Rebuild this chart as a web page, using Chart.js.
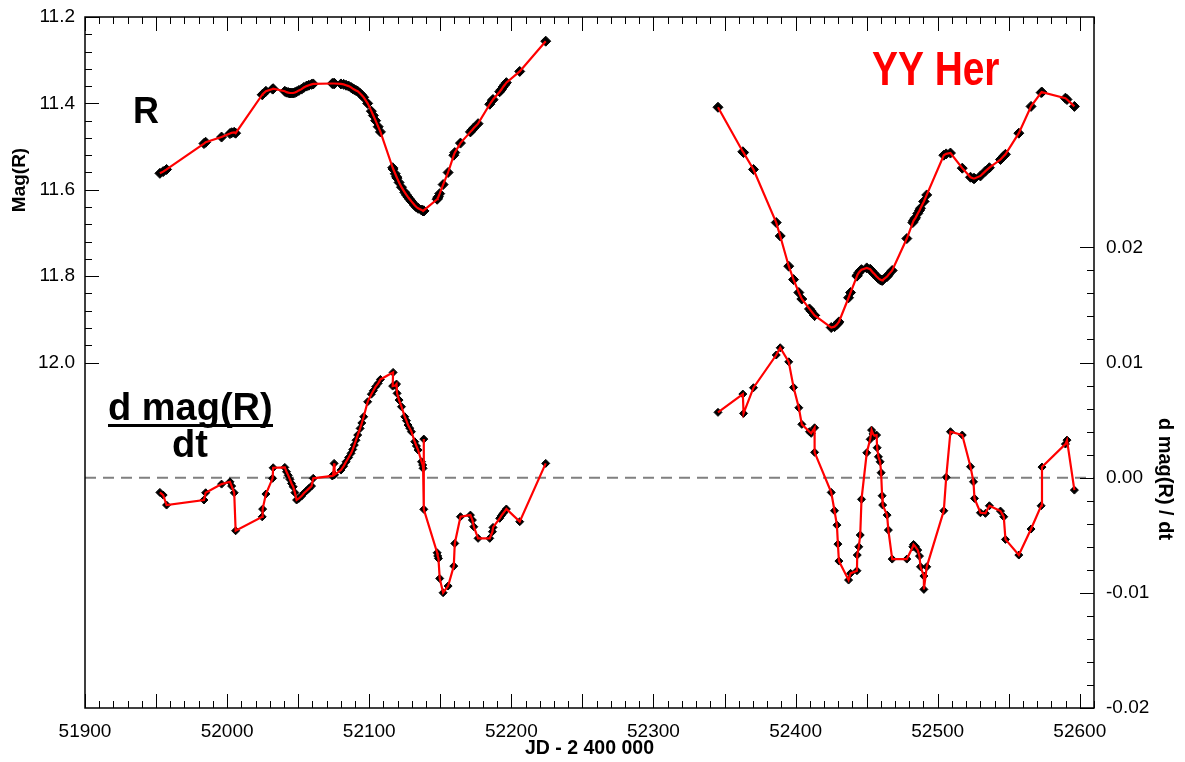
<!DOCTYPE html>
<html>
<head>
<meta charset="utf-8">
<title>YY Her</title>
<script src="https://cdn.jsdelivr.net/npm/chart.js@4.4.1/dist/chart.umd.min.js"></script>
<style>
    html, body { margin: 0; padding: 0; background: #fff; }
</style>
</head>
<body>
<canvas id="myChart" width="1185" height="762"></canvas>
<script>
// tick labels
const xTicks = [51900, 52000, 52100, 52200, 52300, 52400, 52500, 52600];
const magTicks = [11.2, 11.4, 11.6, 11.8, 12.0];
const derTicks = [-0.02, -0.01, 0.00, 0.01, 0.02];

// season 1 : JD - 2400000, R magnitude, d mag / dt
const jd1 = [51952.7, 51955.0, 51957.4, 51983.7, 51984.9, 51996.1, 52002.0, 52003.2, 52005.0, 52006.0,
    52024.7, 52025.0, 52027.3, 52032.0, 52032.4, 52040.6, 52041.8, 52043.0, 52044.2, 52045.3,
    52046.5, 52047.7, 52048.9, 52050.5, 52052.4, 52054.0, 52055.9, 52057.5, 52059.4, 52060.6,
    52074.0, 52074.6, 52075.3, 52075.6, 52080.1, 52082.0, 52083.7, 52085.5, 52087.2, 52088.4,
    52089.5, 52090.7, 52091.9, 52093.6, 52094.8, 52096.1, 52098.9, 52101.5, 52102.9, 52104.5,
    52106.3, 52107.9, 52116.8, 52116.5, 52118.3, 52119.2, 52119.6, 52121.0, 52122.7, 52125.0,
    52126.2, 52127.3, 52128.5, 52129.7, 52132.0, 52133.2, 52134.4, 52136.8, 52137.6, 52137.9,
    52138.4, 52138.4, 52147.8, 52148.2, 52148.7, 52149.6, 52152.0, 52155.5, 52159.5, 52160.2,
    52164.2, 52171.2, 52172.6, 52173.6, 52176.6, 52184.8, 52186.7, 52187.1, 52191.8, 52193.0,
    52194.2, 52195.4, 52196.5, 52205.9, 52224.2];
const mag1 = [11.562, 11.558, 11.553, 11.493, 11.490, 11.478, 11.470, 11.468, 11.467, 11.469,
    11.380, 11.379, 11.372, 11.367, 11.366, 11.372, 11.374, 11.375, 11.376, 11.376,
    11.376, 11.375, 11.373, 11.370, 11.367, 11.363, 11.360, 11.358, 11.356, 11.355,
    11.354, 11.354, 11.354, 11.354, 11.355, 11.356, 11.358, 11.360, 11.363, 11.366,
    11.368, 11.370, 11.372, 11.377, 11.381, 11.386, 11.400, 11.418, 11.428, 11.440,
    11.454, 11.466, 11.552, 11.549, 11.563, 11.570, 11.573, 11.583, 11.594, 11.606,
    11.612, 11.617, 11.622, 11.627, 11.636, 11.640, 11.643, 11.647, 11.648, 11.649,
    11.649, 11.649, 11.622, 11.619, 11.616, 11.609, 11.588, 11.560, 11.520, 11.514,
    11.492, 11.466, 11.461, 11.457, 11.447, 11.402, 11.393, 11.391, 11.373, 11.368,
    11.362, 11.357, 11.352, 11.326, 11.256];
const der1 = [-0.00128, -0.00151, -0.00238, -0.00194, -0.00131, -0.00056, -0.00036, -0.00073, -0.00131, -0.00461,
    -0.00340, -0.00273, -0.00142, -0.00006, 0.00086, 0.00089, 0.00051, 0.00020, -0.00015, -0.00050,
    -0.00079, -0.00130, -0.00194, -0.00180, -0.00160, -0.00135, -0.00113, -0.00095, -0.00073, -0.00006,
    0.00015, 0.00022, 0.00124, 0.00025, 0.00066, 0.00100, 0.00138, 0.00175, 0.00211, 0.00245,
    0.00283, 0.00325, 0.00370, 0.00428, 0.00475, 0.00529, 0.00659, 0.00725, 0.00755, 0.00790,
    0.00819, 0.00853, 0.00914, 0.00795, 0.00800, 0.00813, 0.00732, 0.00674, 0.00616, 0.00529,
    0.00495, 0.00457, 0.00430, 0.00399, 0.00312, 0.00275, 0.00240, 0.00138, 0.00110, 0.00081,
    0.00335, -0.00275, -0.00652, -0.00680, -0.00701, -0.00875, -0.00999, -0.00941, -0.00768, -0.00571,
    -0.00339, -0.00325, -0.00368, -0.00426, -0.00527, -0.00527, -0.00469, -0.00432, -0.00353, -0.00330,
    -0.00310, -0.00290, -0.00272, -0.00382, 0.00124];

// season 2
const jd2 = [52345.4, 52362.9, 52363.4, 52370.4, 52386.4, 52389.2, 52395.2, 52398.6, 52402.3, 52404.4,
    52409.8, 52411.0, 52413.4, 52413.4, 52425.1, 52427.4, 52429.1, 52429.8, 52430.5, 52437.3,
    52438.7, 52443.2, 52443.4, 52444.5, 52445.5, 52446.4, 52450.1, 52452.5, 52453.5, 52454.5,
    52455.5, 52457.0, 52457.4, 52458.3, 52459.5, 52460.2, 52460.9, 52461.3, 52464.4, 52465.3,
    52468.0, 52478.3, 52482.5, 52483.0, 52483.8, 52484.4, 52486.0, 52487.2, 52487.9, 52490.3,
    52490.3, 52492.3, 52504.3, 52506.0, 52509.0, 52517.3, 52523.1, 52525.2, 52525.9, 52530.1,
    52533.6, 52536.4, 52544.2, 52546.5, 52547.7, 52557.1, 52565.7, 52572.8, 52573.4, 52589.9,
    52591.0, 52596.2];
const mag2 = [11.409, 11.512, 11.514, 11.553, 11.676, 11.707, 11.777, 11.808, 11.838, 11.853,
    11.876, 11.881, 11.891, 11.891, 11.919, 11.917, 11.912, 11.909, 11.906, 11.850,
    11.838, 11.800, 11.798, 11.792, 11.788, 11.785, 11.781, 11.784, 11.788, 11.792,
    11.795, 11.801, 11.802, 11.805, 11.808, 11.809, 11.810, 11.809, 11.801, 11.797,
    11.787, 11.713, 11.676, 11.672, 11.668, 11.665, 11.655, 11.648, 11.643, 11.627,
    11.627, 11.612, 11.520, 11.517, 11.515, 11.550, 11.571, 11.574, 11.574, 11.568,
    11.557, 11.549, 11.530, 11.522, 11.518, 11.469, 11.407, 11.375, 11.374, 11.388,
    11.391, 11.407];
const der2 = [0.00567, 0.00726, 0.00558, 0.00781, 0.01065, 0.01128, 0.01006, 0.00784, 0.00607, 0.00463,
    0.00399, 0.00385, 0.00433, 0.00220, -0.00128, -0.00287, -0.00412, -0.00577, -0.00724, -0.00889,
    -0.00831, -0.00808, -0.00672, -0.00600, -0.00498, -0.00188, 0.00216, 0.00333, 0.00413, 0.00380,
    0.00365, 0.00370, 0.00260, 0.00181, 0.00138, 0.00043, -0.00157, -0.00238, -0.00325, -0.00455,
    -0.00707, -0.00707, -0.00600, -0.00580, -0.00590, -0.00600, -0.00629, -0.00681, -0.00774, -0.00854,
    -0.00970, -0.00774, -0.00287, 0.00003, 0.00399, 0.00370, 0.00095, -0.00036, -0.00180, -0.00305,
    -0.00310, -0.00244, -0.00290, -0.00339, -0.00536, -0.00672, -0.00446, -0.00244, 0.00092, 0.00292,
    0.00326, -0.00108];

const FONT = "'Liberation Sans', Arial, sans-serif";

function pts(xs, ys){
    return xs.map((v, i) => ({x: v, y: ys[i]}));
}

/**
 * red line on top of black diamonds
 */
function series(xs, ys, axis, radius){
    const data = pts(xs, ys);
    return [{
        data: data, yAxisID: axis, showLine: true,
        borderColor: '#ff0000', borderWidth: 2.2, pointRadius: 0, order: 1
    }, {
        data: data, yAxisID: axis, showLine: false,
        pointStyle: 'rectRot', pointRadius: radius,
        backgroundColor: '#000', borderColor: '#000', borderWidth: 1, order: 2
    }];
}

// ticks pointing inward, frame, zero line and texts
const decor = {
    id: 'decor',
    beforeDatasetsDraw(chart){
        const {ctx, chartArea: a, scales} = chart;
        const y0 = scales.yR.getPixelForValue(0);
        ctx.save();
        ctx.strokeStyle = '#808080';
        ctx.lineWidth = 2;
        ctx.setLineDash([11, 7]);
        ctx.beginPath();
        ctx.moveTo(a.left, y0);
        ctx.lineTo(a.right, y0);
        ctx.stroke();
        ctx.restore();
    },
    afterDatasetsDraw(chart){
        const {ctx, chartArea: a, scales: {x, yL, yR}} = chart;
        ctx.save();
        ctx.strokeStyle = '#000';
        ctx.lineWidth = 1.5;
        ctx.strokeRect(a.left, a.top, a.right - a.left, a.bottom - a.top);
        ctx.lineWidth = 1;
        ctx.beginPath();
        for (let i = 0; 51900 + i * 10 <= 52610; i++){
            const px = Math.round(x.getPixelForValue(51900 + i * 10)) + 0.5;
            const len = i % 5 === 0 ? 14 : 7;
            ctx.moveTo(px, a.bottom); ctx.lineTo(px, a.bottom - len);
            ctx.moveTo(px, a.top); ctx.lineTo(px, a.top + len);
        }
        for (let i = 0; i <= 20; i++){
            const py = Math.round(yL.getPixelForValue(11.2 + i * 0.04)) + 0.5;
            ctx.moveTo(a.left, py); ctx.lineTo(a.left + (i % 5 === 0 ? 14 : 7), py);
        }
        for (let i = 0; i <= 20; i++){
            const py = Math.round(yR.getPixelForValue(-0.02 + i * 0.002)) + 0.5;
            ctx.moveTo(a.right, py); ctx.lineTo(a.right - (i % 5 === 0 ? 14 : 7), py);
        }
        ctx.stroke();
        ctx.restore();
    },
    afterDraw(chart){
        const ctx = chart.ctx;
        ctx.save();
        ctx.fillStyle = '#000';
        ctx.textBaseline = 'alphabetic';
        ctx.textAlign = 'left';
        ctx.font = 'bold 36px ' + FONT;
        ctx.fillText('R', 133, 123);
        ctx.font = 'bold 38px ' + FONT;
        ctx.fillText('d mag(R)', 108, 420);
        ctx.fillRect(108, 424, 165, 3);
        ctx.textAlign = 'center';
        ctx.fillText('dt', 190, 457);

        // condensed red title
        ctx.fillStyle = '#ff0000';
        ctx.textAlign = 'left';
        ctx.font = 'bold 48px ' + FONT;
        ctx.save();
        ctx.translate(872, 85);
        ctx.scale(0.81, 1);
        ctx.fillText('YY Her', 0, 0);
        ctx.restore();

        ctx.fillStyle = '#000';
        ctx.textAlign = 'center';
        ctx.textBaseline = 'middle';
        ctx.font = 'bold 19px ' + FONT;
        ctx.save();
        ctx.translate(20, 180);
        ctx.rotate(-Math.PI / 2);
        ctx.fillText('Mag(R)', 0, 0);
        ctx.restore();
        ctx.font = 'bold 20px ' + FONT;
        ctx.save();
        ctx.translate(1165, 479);
        ctx.rotate(Math.PI / 2);
        ctx.fillText('d mag(R) / dt', 0, 0);
        ctx.restore();
        ctx.restore();
    }
};

const tickFont = {family: FONT, size: 19};

// keep the plot box fixed, labels may overflow into the margins
function fixY(width){
    return s => { s.width = width; s.paddingTop = 0; s.paddingBottom = 0; };
}

const config = {
    type: 'scatter',
    data: {
        datasets: [
            ...series(jd1, mag1, 'yL', 5),
            ...series(jd2, mag2, 'yL', 5),
            ...series(jd1, der1, 'yR', 4),
            ...series(jd2, der2, 'yR', 4)
        ]
    },
    options: {
        responsive: false,
        animation: false,
        layout: { padding: {top: 17, left: 0, right: 0, bottom: 0} },
        plugins: {
            legend: { display: false },
            tooltip: { enabled: false }
        },
        scales: {
            x: {
                type: 'linear', position: 'bottom', min: 51900, max: 52610,
                grid: { display: false, drawTicks: false },
                border: { display: false },
                ticks: { color: '#000', font: tickFont, padding: 12, maxRotation: 0, autoSkip: false,
                         callback: v => String(v) },
                afterBuildTicks: s => { s.ticks = xTicks.map(v => ({value: v})); },
                afterFit: s => { s.height = 54; s.paddingLeft = 0; s.paddingRight = 0; },
                title: { display: true, text: 'JD - 2 400 000', color: '#000',
                         font: {family: FONT, size: 19.5, weight: 'bold'}, padding: {top: 0, bottom: 2} }
            },
            yL: {
                type: 'linear', position: 'left', reverse: true, min: 11.2, max: 12.8,
                grid: { display: false, drawTicks: false },
                border: { display: false },
                ticks: { color: '#000', font: tickFont, padding: 10,
                         callback: v => v.toFixed(1) },
                afterBuildTicks: s => { s.ticks = magTicks.map(v => ({value: v})); },
                afterFit: fixY(85)
            },
            yR: {
                type: 'linear', position: 'right', min: -0.02, max: 0.04,
                grid: { display: false, drawTicks: false },
                border: { display: false },
                ticks: { color: '#000', font: tickFont, padding: 12,
                         callback: v => v.toFixed(2) },
                afterBuildTicks: s => { s.ticks = derTicks.map(v => ({value: v})); },
                afterFit: fixY(91)
            }
        }
    },
    plugins: [decor]
};

var myChart = new Chart(document.getElementById('myChart').getContext('2d'), config);
</script>
</body>
</html>
